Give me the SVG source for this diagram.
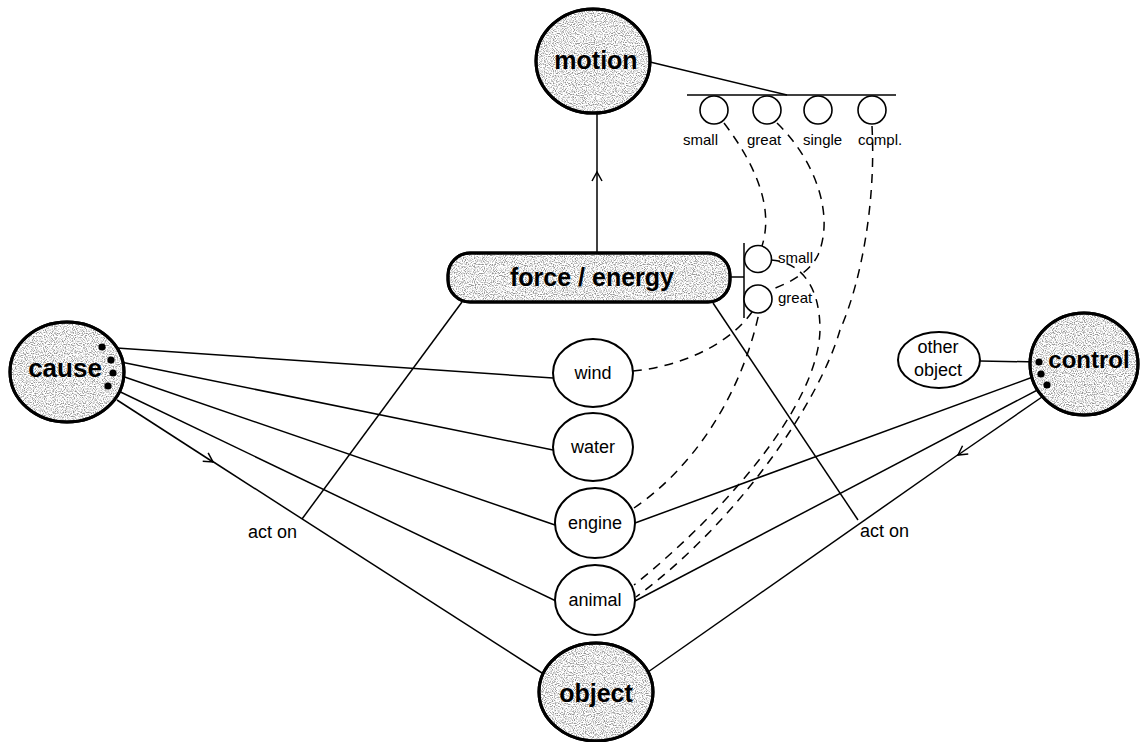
<svg xmlns="http://www.w3.org/2000/svg" width="1147" height="742" viewBox="0 0 1147 742">
  <style>
    .bg { fill: #ffffff; }
    .big { fill: #ffffff; stroke: #000; stroke-width: 3; }
    .grain { fill: #000; filter: url(#grain); opacity: 0.42; }
    .rim { fill: none; stroke: #000; stroke-width: 3; }
    .small { fill: #ffffff; stroke: #000; stroke-width: 2; }
    .tick { fill: #ffffff; stroke: #000; stroke-width: 1.6; }
    .line { fill: none; stroke: #000; stroke-width: 1.5; }
    .dash { fill: none; stroke: #000; stroke-width: 1.5; stroke-dasharray: 9 7; }
    .title { font-family: "Liberation Sans", Arial, sans-serif; font-weight: bold; font-size: 25px; fill: #000; text-anchor: middle; }
    .label { font-family: "Liberation Sans", Arial, sans-serif; font-size: 18px; fill: #000; text-anchor: middle; }
    .note { font-family: "Liberation Sans", Arial, sans-serif; font-size: 15px; fill: #000; }
    .dot { fill: #000; }
  </style>
  <defs>
    <!-- halftone stipple used to shade the main concept nodes -->
    <filter id="grain" x="0%" y="0%" width="100%" height="100%" color-interpolation-filters="sRGB">
      <feTurbulence type="fractalNoise" baseFrequency="0.9" numOctaves="1" seed="7" result="noise"/>
      <feColorMatrix in="noise" type="matrix" values="0 0 0 0 0  0 0 0 0 0  0 0 0 0 0  -4 0 0 0 2.2" result="dots"/>
      <feComposite in="dots" in2="SourceGraphic" operator="in"/>
    </filter>
    <marker id="arrow" markerWidth="12" markerHeight="12" refX="0" refY="0" viewBox="-10 -6 12 12" orient="auto" markerUnits="userSpaceOnUse">
      <path d="M-9,-5 L0,0 L-9,5" fill="none" stroke="#000" stroke-width="1.5"/>
    </marker>
  </defs>

  <rect class="bg" x="0" y="0" width="1147" height="742"/>

  <g id="connectors">
    <!-- motion scale and force scale -->
    <line class="line" x1="597" y1="253" x2="597" y2="172" marker-end="url(#arrow)"/>
    <line class="line" x1="597" y1="173" x2="597" y2="113"/>
    <line class="line" x1="650" y1="62" x2="787" y2="95"/>
    <line class="line" x1="687" y1="95" x2="896" y2="95"/>
    <line class="line" x1="730" y1="277" x2="744" y2="277"/>
    <line class="line" x1="744" y1="243" x2="744" y2="318"/>

    <!-- force/energy acts on -->
    <line class="line" x1="462" y1="302" x2="302" y2="519"/>
    <line class="line" x1="713" y1="303" x2="858" y2="520"/>

    <!-- cause links -->
    <line class="line" x1="102" y1="347" x2="553" y2="378"/>
    <line class="line" x1="111" y1="360" x2="553" y2="450"/>
    <line class="line" x1="113" y1="373" x2="555" y2="525"/>
    <line class="line" x1="108" y1="386" x2="556" y2="601"/>
    <line class="line" x1="117" y1="400" x2="213" y2="462" marker-end="url(#arrow)"/>
    <line class="line" x1="212" y1="461" x2="542" y2="673"/>

    <!-- control links -->
    <line class="line" x1="980" y1="361" x2="1039" y2="362"/>
    <line class="line" x1="1041" y1="374" x2="635" y2="523"/>
    <line class="line" x1="1047" y1="385" x2="635" y2="601"/>
    <line class="line" x1="1042" y1="397" x2="958" y2="455" marker-end="url(#arrow)"/>
    <line class="line" x1="959" y1="454" x2="648" y2="672"/>

    <!-- magnitude correspondences -->
    <path class="dash" d="M724,123 C752,160 775,205 762,246"/>
    <path class="dash" d="M777,123 C815,160 835,215 818,255 C810,272 790,283 770,290"/>
    <path class="dash" d="M872,126 C876,200 862,280 840,330 C820,400 740,520 636,597"/>
    <path class="dash" d="M771,260 C800,262 820,285 820,330 C818,410 715,520 634,585"/>
    <path class="dash" d="M633,371 C670,368 725,350 752,312"/>
    <path class="dash" d="M634,508 C690,470 740,400 759,313"/>
  </g>

  <g id="scale-top">
    <circle class="tick" cx="714" cy="110" r="14"/>
    <circle class="tick" cx="767" cy="110" r="14"/>
    <circle class="tick" cx="818" cy="110" r="14"/>
    <circle class="tick" cx="872" cy="110" r="14"/>
    <text class="note" x="683" y="145">small</text>
    <text class="note" x="747" y="145">great</text>
    <text class="note" x="803" y="145">single</text>
    <text class="note" x="858" y="145">compl.</text>
  </g>

  <g id="scale-force">
    <circle class="tick" cx="758" cy="259" r="13.5"/>
    <circle class="tick" cx="758" cy="299" r="14"/>
    <text class="note" x="778" y="263">small</text>
    <text class="note" x="778" y="303">great</text>
  </g>

  <g id="motion">
    <ellipse class="big" cx="593" cy="61" rx="57" ry="52"/>
    <ellipse class="grain" cx="593" cy="61" rx="56" ry="51"/>
    <ellipse class="rim" cx="593" cy="61" rx="57" ry="52"/>
    <text class="title" x="596" y="69">motion</text>
  </g>

  <g id="force-energy">
    <rect class="big" x="448" y="253" width="282" height="49" rx="22"/>
    <rect class="grain" x="449" y="254" width="280" height="47" rx="21"/>
    <rect class="rim" x="448" y="253" width="282" height="49" rx="22"/>
    <text class="title" x="592" y="286">force / energy</text>
  </g>

  <g id="cause">
    <ellipse class="big" cx="67" cy="372" rx="57" ry="50"/>
    <ellipse class="grain" cx="67" cy="372" rx="56" ry="49"/>
    <ellipse class="rim" cx="67" cy="372" rx="57" ry="50"/>
    <text class="title" x="65" y="377" style="font-size:26px">cause</text>
    <circle class="dot" cx="102" cy="347" r="3.6"/>
    <circle class="dot" cx="111" cy="360" r="3.6"/>
    <circle class="dot" cx="113" cy="373" r="3.6"/>
    <circle class="dot" cx="108" cy="386" r="3.6"/>
  </g>

  <g id="control">
    <ellipse class="big" cx="1084" cy="364" rx="54" ry="51"/>
    <ellipse class="grain" cx="1084" cy="364" rx="53" ry="50"/>
    <ellipse class="rim" cx="1084" cy="364" rx="54" ry="51"/>
    <text class="title" x="1089" y="368" style="font-size:24px">control</text>
    <circle class="dot" cx="1039" cy="362" r="3.6"/>
    <circle class="dot" cx="1041" cy="374" r="3.6"/>
    <circle class="dot" cx="1047" cy="385" r="3.6"/>
  </g>

  <g id="other-object">
    <ellipse class="small" cx="939" cy="360" rx="41" ry="28"/>
    <text class="label" x="938" y="353">other</text>
    <text class="label" x="938" y="376">object</text>
  </g>

  <g id="wind">
    <ellipse class="small" cx="593" cy="373" rx="40" ry="34"/>
    <text class="label" x="593" y="379">wind</text>
  </g>
  <g id="water">
    <ellipse class="small" cx="593" cy="447" rx="40" ry="34"/>
    <text class="label" x="593" y="453">water</text>
  </g>
  <g id="engine">
    <ellipse class="small" cx="595" cy="523" rx="40" ry="35"/>
    <text class="label" x="595" y="529">engine</text>
  </g>
  <g id="animal">
    <ellipse class="small" cx="595" cy="600" rx="40" ry="35"/>
    <text class="label" x="595" y="606">animal</text>
  </g>

  <g id="object">
    <ellipse class="big" cx="596" cy="692" rx="57" ry="49"/>
    <ellipse class="grain" cx="596" cy="692" rx="56" ry="48"/>
    <ellipse class="rim" cx="596" cy="692" rx="57" ry="49"/>
    <text class="title" x="596" y="702">object</text>
  </g>

  <g id="act-on-labels">
    <text class="label" x="248" y="538" style="text-anchor:start">act on</text>
    <text class="label" x="860" y="537" style="text-anchor:start">act on</text>
  </g>
</svg>
